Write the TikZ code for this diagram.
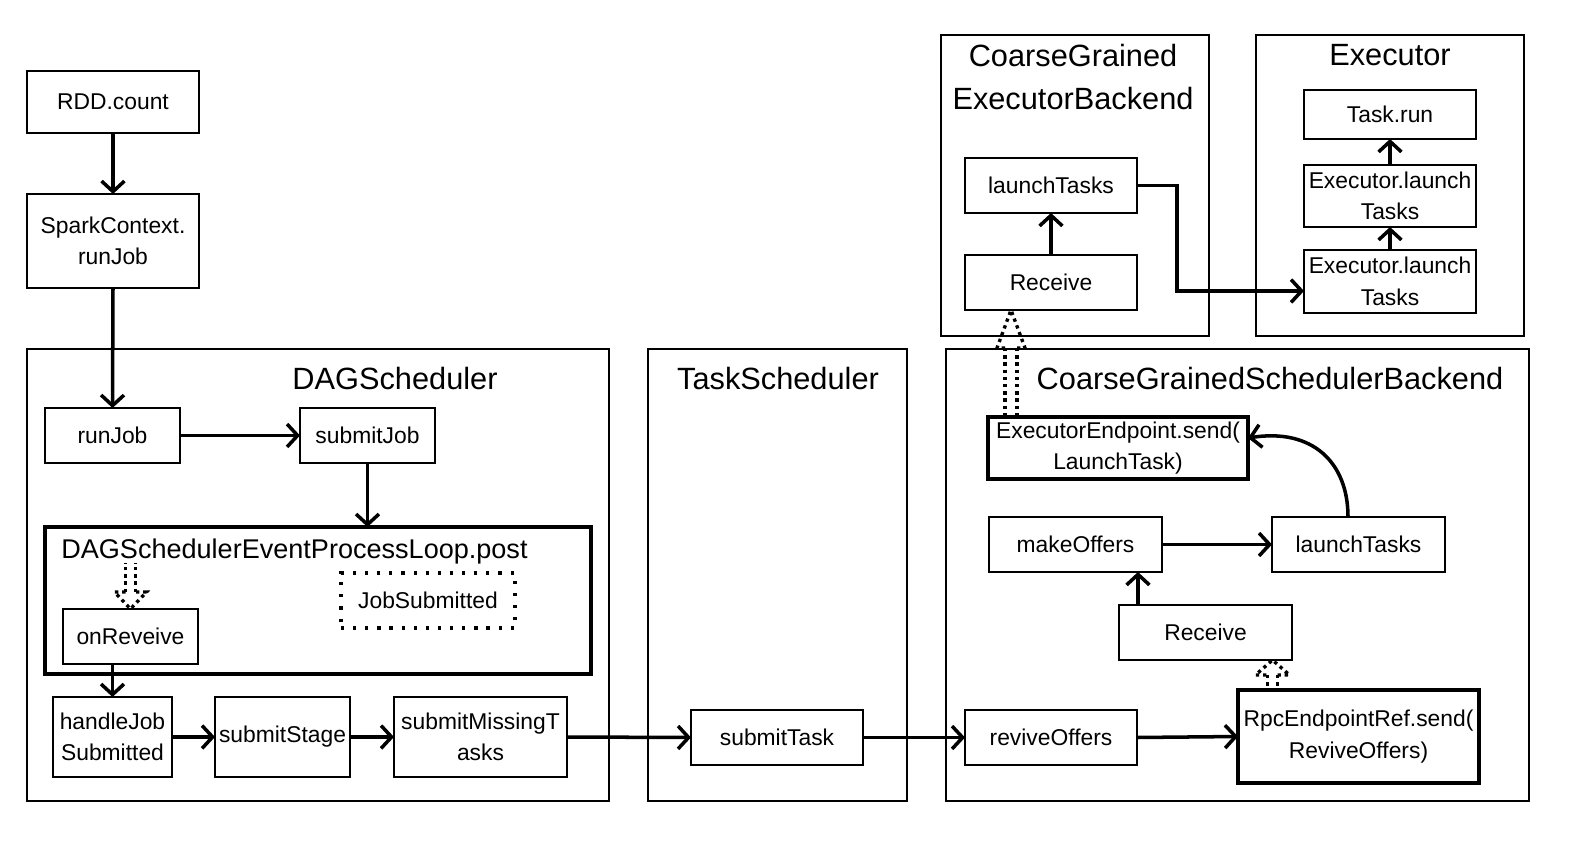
\documentclass[tikz,border=0pt]{standalone}
\usepackage{fontspec}
\setmainfont{Liberation Sans}
\usetikzlibrary{arrows.meta,calc}
\newcommand\mkbox[7]{\node[#6,minimum width={(#4-#2)*0.02cm},minimum height={(#5-#3)*0.02cm}] (#1) at ({(#2+#4)/2},{(#3+#5)/2}) {#7};}%
% apex, rotation, head length, head half width, shaft half spacing, total length
\newcommand\hollowarrow[6]{%
\begin{scope}[shift={(#1)},rotate=#2]%
 \draw[dotline] (-#5,-#3) -- (-#5,-#6) (#5,-#3) -- (#5,-#6);%
 \draw[dotline] (-#5,-#3) -- (-#4,-#3) -- (0,0) -- (#4,-#3) -- (#5,-#3);%
\end{scope}}%
\begin{document}%
\begin{tikzpicture}[x=0.02cm,y=-0.02cm,
 box/.style={draw,line width=1.1pt,inner sep=0pt,outer sep=0pt,align=center,font=\fontsize{13}{18}\selectfont},
 heavy/.style={box,line width=2.3pt},
 dotbox/.style={box,line width=1.8pt,dash pattern=on 1.8pt off 5.1pt},
 title/.style={font=\fontsize{17.5}{24}\selectfont,align=center,inner sep=0pt},
 looptext/.style={font=\fontsize{15.4}{20}\selectfont,inner sep=0pt},
 arr/.style={line width=2pt,-{Straight Barb[length=6pt,width=13pt,line width=2pt]}},
 dotline/.style={line width=1.9pt,dash pattern=on 1.9pt off 2.2pt}]
\useasboundingbox (0,0) rectangle (1574,844);
% left column
\mkbox{rdd}{27}{71}{199}{133}{box}{RDD.count}
\mkbox{sc}{27}{194}{199}{288}{box}{SparkContext.\\runJob}
% DAGScheduler
\mkbox{dag}{27}{349}{609}{801}{box}{}
\node[title] (dagt) at (395,379) {DAGScheduler};
\mkbox{rj}{45}{408}{180}{463}{box}{runJob}
\mkbox{sj}{300}{408}{435}{463}{box}{submitJob}
\mkbox{loop}{45}{527}{591}{674}{heavy}{}
\node[looptext,anchor=west] (loopt) at (61,552) {DAGSchedulerEventProcessLoop.post};
\mkbox{js}{341}{573}{515}{628}{dotbox}{JobSubmitted}
\mkbox{onr}{63}{609}{198}{664}{box}{onReveive}
\mkbox{hjs}{53}{697}{172}{777}{box}{handleJob\\Submitted}
\mkbox{ss}{215}{697}{350}{777}{box}{submitStage}
\mkbox{smt}{394}{697}{567}{777}{box}{submitMissingT\\asks}
% TaskScheduler
\mkbox{ts}{648}{349}{907}{801}{box}{}
\node[title] (tst) at (778,379) {TaskScheduler};
\mkbox{st}{691}{710}{863}{765}{box}{submitTask}
% CoarseGrainedSchedulerBackend
\mkbox{cgsb}{946}{349}{1529}{801}{box}{}
\node[title] (cgsbt) at (1270,379) {CoarseGrainedSchedulerBackend};
\mkbox{ee}{988}{417}{1248}{479}{heavy}{ExecutorEndpoint.send(\\LaunchTask)}
\mkbox{mo}{989}{517}{1162}{572}{box}{makeOffers}
\mkbox{lt}{1272}{517}{1445}{572}{box}{launchTasks}
\mkbox{rcv}{1119}{605}{1292}{660}{box}{Receive}
\mkbox{ro}{965}{710}{1137}{765}{box}{reviveOffers}
\mkbox{rpc}{1238}{690}{1479}{783}{heavy}{RpcEndpointRef.send(\\ReviveOffers)}
% CoarseGrainedExecutorBackend
\mkbox{cgeb}{941}{35}{1209}{336}{box}{}
\node[title] (cgebt) at (1073,77) {CoarseGrained\\ExecutorBackend};
\mkbox{elt}{965}{158}{1137}{213}{box}{launchTasks}
\mkbox{erc}{965}{255}{1137}{310}{box}{Receive}
% Executor
\mkbox{ex}{1256}{35}{1524}{336}{box}{}
\node[title] (ext) at (1390,55) {Executor};
\mkbox{tr}{1304}{90}{1476}{139}{box}{Task.run}
\mkbox{el2}{1304}{165}{1476}{227}{box}{Executor.launch\\Tasks}
\mkbox{el1}{1304}{250}{1476}{313}{box}{Executor.launch\\Tasks}
% arrows
\draw[arr] (rdd.south) -- (sc.north);
\draw[arr] (sc.south) -- (rj.north);
\draw[arr] (rj.east) -- (sj.west);
\draw[arr] (sj.south) -- (sj.south |- loop.north);
\draw[arr] (hjs.north |- onr.south) -- (hjs.north);
\draw[arr] (hjs.east) -- (ss.west);
\draw[arr] (ss.east) -- (smt.west);
\draw[arr] (smt.east) -- (st.west);
\draw[arr] (st.east) -- (ro.west);
\draw[arr] (ro.east) -- (rpc.west);
\coordinate (rcvA) at ([xshift=0.38cm]rcv.north west);
\draw[arr] (rcvA) -- (rcvA |- mo.south);
\draw[arr] (mo.east) -- (lt.west);
\draw[arr] ([xshift=-0.21cm]lt.north) .. controls (1348,462) and (1312,428) .. ([yshift=0.2cm]ee.east);
\draw[arr] (erc.north) -- (elt.south);
\draw[arr] (elt.east) -- ([xshift=0.8cm]elt.east) |- ([yshift=-0.19cm]el1.west);
\draw[arr] (el1.north) -- (el2.south);
\draw[arr] (el2.north) -- (tr.south);
% hollow dotted arrows
\hollowarrow{onr.north}{0}{17}{16}{5}{46}
\hollowarrow{$(erc.south)+(-40,0)$}{180}{38}{14}{6}{107}
\hollowarrow{$(rcv.south)+(67,0)$}{180}{15}{17}{5}{30}
\end{tikzpicture}%
\end{document}
